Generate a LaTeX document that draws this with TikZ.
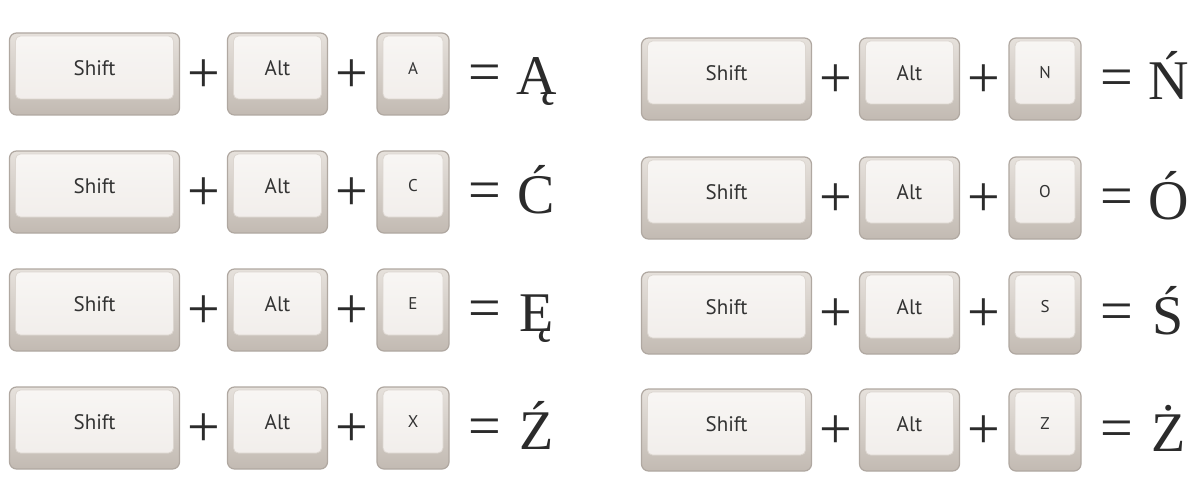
\documentclass[tikz,border=0pt]{standalone}
\usepackage{fontspec}
\setmainfont{Liberation Serif}
\newfontfamily\keyfont{PT Sans}
\definecolor{keyedge}{HTML}{B0A8A1}
\definecolor{lipA}{HTML}{E6E1DC}
\definecolor{lipB}{HTML}{C2BAB2}
\definecolor{faceA}{HTML}{F8F6F4}
\definecolor{faceB}{HTML}{F0ECE9}
\definecolor{faceedge}{HTML}{DCD6D0}
\definecolor{keyink}{HTML}{333333}
\definecolor{ink}{HTML}{2B2B2B}
\tikzset{
  keybase/.style={draw=keyedge, line width=1.2pt, rounded corners=7pt,
    top color=lipA, bottom color=lipB, minimum height=82pt, inner sep=0pt,
    path picture={
      \draw[draw=faceedge, line width=0.8pt, rounded corners=5pt, top color=faceA, bottom color=faceB]
        ([shift={(6pt,-3pt)}]path picture bounding box.north west) rectangle
        ([shift={(-6pt,16pt)}]path picture bounding box.south east);
    }},
  shiftkey/.style={keybase, minimum width=170pt},
  altkey/.style={keybase, minimum width=100pt},
  letterkey/.style={keybase, minimum width=72pt},
  biglabel/.style={font=\keyfont\fontsize{21}{21}\selectfont, text=keyink, yshift=6pt, inner sep=0pt},
  smalllabel/.style={font=\keyfont\fontsize{17}{17}\selectfont, text=keyink, yshift=6pt, inner sep=0pt},
  op/.style={font=\fontsize{58}{58}\selectfont, text=ink, inner sep=0pt},
  result/.style={font=\fontsize{56}{56}\selectfont, text=ink, inner sep=0pt, anchor=base},
}
\newcommand\combo[5]{%
  \begin{scope}[shift={(#2,0)}]
    \node[shiftkey, label={[biglabel, name=#1st]center:Shift}] (#1s) at (94.5,#3) {};
    \node[op] (#1pa) at (204,{#3+2}) {+};
    \node[altkey, label={[biglabel, name=#1at]center:Alt}] (#1a) at (277.5,#3) {};
    \node[op] (#1pb) at (352,{#3+2}) {+};
    \node[letterkey, label={[smalllabel, name=#1kt]center:#4}] (#1k) at (413,#3) {};
    \node[op] (#1eq) at (485,{#3+4}) {=};
    \node[result] (#1r) at (536.5,{#3+21}) {#5};
  \end{scope}}
\begin{document}
\begin{tikzpicture}[x=1pt, y=-1pt]
  \useasboundingbox[fill=white] (0,0) rectangle (1204,484);
  \combo{la}{0}{74}{A}{Ą}
  \combo{lc}{0}{192}{C}{Ć}
  \combo{le}{0}{310}{E}{Ę}
  \combo{lx}{0}{428}{X}{Ź}
  \combo{rn}{632}{79}{N}{Ń}
  \combo{ro}{632}{198}{O}{Ó}
  \combo{rs}{632}{313}{S}{Ś}
  \combo{rz}{632}{430}{Z}{Ż}
\end{tikzpicture}
\end{document}
